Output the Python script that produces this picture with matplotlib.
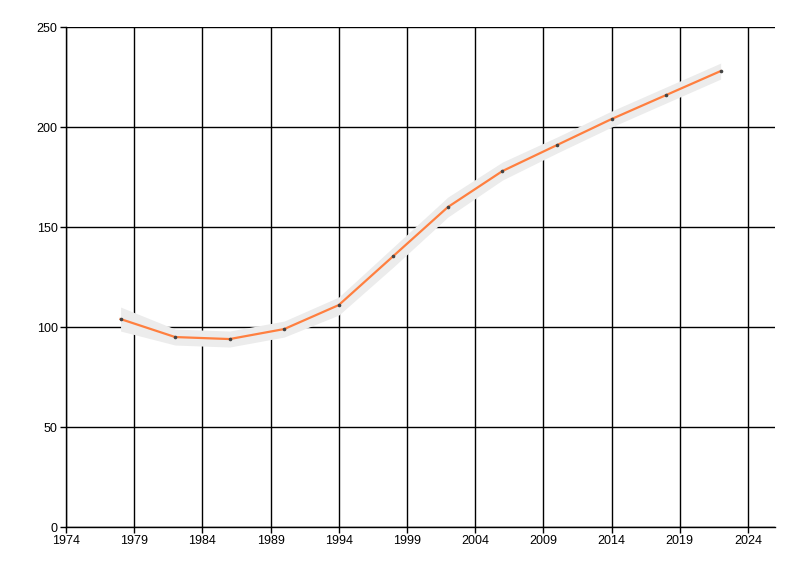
import matplotlib
matplotlib.use("Agg")
import matplotlib.pyplot as plt

# values
years = [1978, 1982, 1986, 1990, 1994, 1998, 2002, 2006, 2010, 2014, 2018, 2022]
values = [104, 95, 94, 99, 111, 135.5, 160, 178, 191, 204, 216, 228]
band_lower = [98, 91, 90, 95, 106, 130, 155, 173.5, 187, 200, 212, 224]
band_upper = [110, 99, 98, 103, 115, 140, 165, 182.5, 195, 208, 220, 232]
x_ticks = [1974, 1979, 1984, 1989, 1994, 1999, 2004, 2009, 2014, 2019, 2024]
y_ticks = [0, 50, 100, 150, 200, 250]

plt.rcParams['font.family'] = ['Liberation Sans', 'DejaVu Sans']
plt.rcParams['font.size'] = 9

fig = plt.figure(figsize=(8, 5.76), dpi=100)
ax = fig.add_axes([0.0825, 0.085, 0.8865, 0.868])

ax.fill_between(years, band_lower, band_upper, color='#ececec', linewidth=0, zorder=2)
ax.plot(years, values, color='#ff7f3f', linewidth=1.6, zorder=3)
ax.plot(years, values, linestyle='none', marker='o', markersize=1.6,
        color='#444444', zorder=4)

ax.set_xlim(1974, 2026)
ax.set_ylim(0, 250)
ax.set_xticks(x_ticks)
ax.set_yticks(y_ticks)
ax.grid(True, color='black', linewidth=1, zorder=1)
ax.set_axisbelow(True)
for s in ['top', 'right']:
    ax.spines[s].set_visible(False)
for s in ['left', 'bottom']:
    ax.spines[s].set_linewidth(1)
ax.tick_params(direction='out', length=4, width=1, pad=2)

fig.savefig('out.png', dpi=100)
